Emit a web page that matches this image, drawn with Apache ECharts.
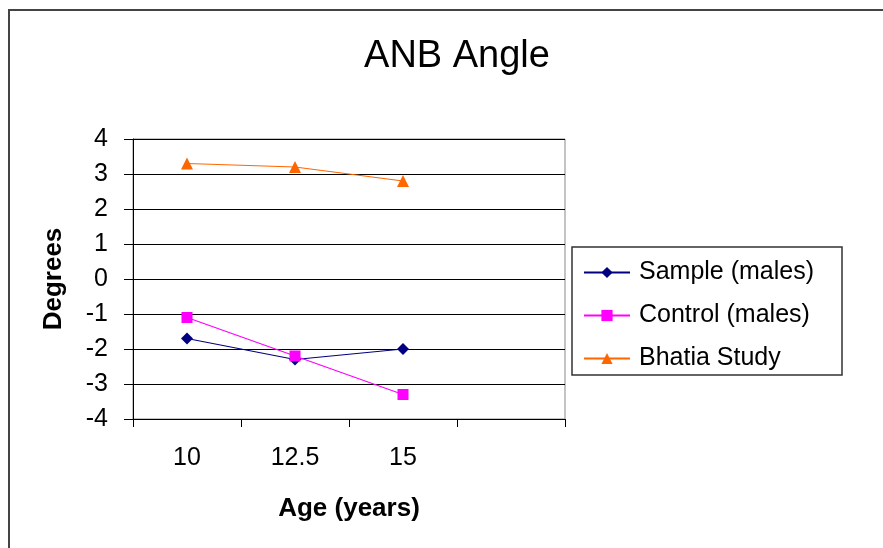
<!DOCTYPE html>
<html>
<head>
<meta charset="utf-8">
<title>ANB Angle</title>
<script src="https://cdn.jsdelivr.net/npm/echarts@6/dist/echarts.min.js"></script>
<style>
  html, body { margin: 0; padding: 0; background: #fff; }
  #chart { width: 883px; height: 548px; }
</style>
</head>
<body>
<div id="chart"></div>
<script>
// ages (a 4th empty slot like the original sheet)
const ages = ['10', '12.5', '15', '']
const sampleMales = [-1.7, -2.3, -2.0]
const controlMales = [-1.1, -2.2, -3.3]
const bhatiaStudy = [3.3, 3.2, 2.8]
const yTicks = { min: -4, max: 4, interval: 1 }

const font = '"Liberation Sans", Arial, sans-serif'

const chart = echarts.init(document.getElementById('chart'))

chart.setOption({
  backgroundColor: '#fff',
  animation: false,
  title: {
    text: 'ANB Angle',
    left: 452,
    top: 33,
    textAlign: 'center',
    textStyle: { fontFamily: font, fontSize: 38, fontWeight: 'normal', color: '#000' }
  },
  // outer frame and legend box
  graphic: [
    {
      type: 'polyline',
      shape: { points: [[9, 560], [9, 10], [900, 10]] },
      style: { stroke: '#444', lineWidth: 2, fill: null }
    },
    {
      type: 'rect',
      shape: { x: 572, y: 247, width: 270, height: 128 },
      style: { stroke: '#333', lineWidth: 1.5, fill: null }
    }
  ],
  legend: {
    orient: 'vertical',
    left: 583,
    top: 259,
    padding: 0,
    itemWidth: 46,
    itemHeight: 14,
    itemGap: 16,
    textStyle: { fontFamily: font, fontSize: 25, color: '#000', lineHeight: 27, padding: [0, 0, 0, 4] },
    data: ['Sample (males)', 'Control (males)', 'Bhatia Study']
  },
  grid: {
    left: 133,
    right: 318,
    top: 139,
    bottom: 129,
    show: true,
    borderColor: '#888',
    borderWidth: 1
  },
  xAxis: {
    type: 'category',
    data: ages,
    boundaryGap: true,
    name: 'Age (years)',
    nameLocation: 'middle',
    nameGap: 77,
    nameTextStyle: { fontFamily: font, fontSize: 26, fontWeight: 'bold', color: '#000' },
    axisLine: { onZero: false, lineStyle: { color: '#000', width: 1 } },
    axisTick: { show: true, length: 8, inside: false, lineStyle: { color: '#000' } },
    axisLabel: { fontFamily: font, fontSize: 25, color: '#000', margin: 27 },
    splitLine: { show: false }
  },
  yAxis: {
    type: 'value',
    min: yTicks.min,
    max: yTicks.max,
    interval: yTicks.interval,
    name: 'Degrees',
    nameLocation: 'middle',
    nameGap: 66,
    nameRotate: 90,
    nameTextStyle: { fontFamily: font, fontSize: 26, fontWeight: 'bold', color: '#000' },
    axisLine: { show: true, lineStyle: { color: '#000', width: 1 } },
    axisTick: { show: true, length: 9, inside: false, lineStyle: { color: '#000' } },
    axisLabel: { fontFamily: font, fontSize: 25, color: '#000', margin: 25 },
    splitLine: { show: true, lineStyle: { color: '#000', width: 1 } }
  },
  series: [
    {
      name: 'Sample (males)',
      type: 'line',
      data: sampleMales,
      symbol: 'diamond',
      symbolSize: 12,
      color: '#000080',
      lineStyle: { width: 1.2, color: '#000080' },
      itemStyle: { color: '#000080' }
    },
    {
      name: 'Control (males)',
      type: 'line',
      data: controlMales,
      symbol: 'rect',
      symbolSize: 11,
      color: '#ff00ff',
      lineStyle: { width: 1.2, color: '#ff00ff' },
      itemStyle: { color: '#ff00ff' }
    },
    {
      name: 'Bhatia Study',
      type: 'line',
      data: bhatiaStudy,
      symbol: 'triangle',
      symbolSize: 12,
      color: '#ff6600',
      lineStyle: { width: 1.2, color: '#ff6600' },
      itemStyle: { color: '#ff6600' }
    }
  ]
})
</script>
</body>
</html>
